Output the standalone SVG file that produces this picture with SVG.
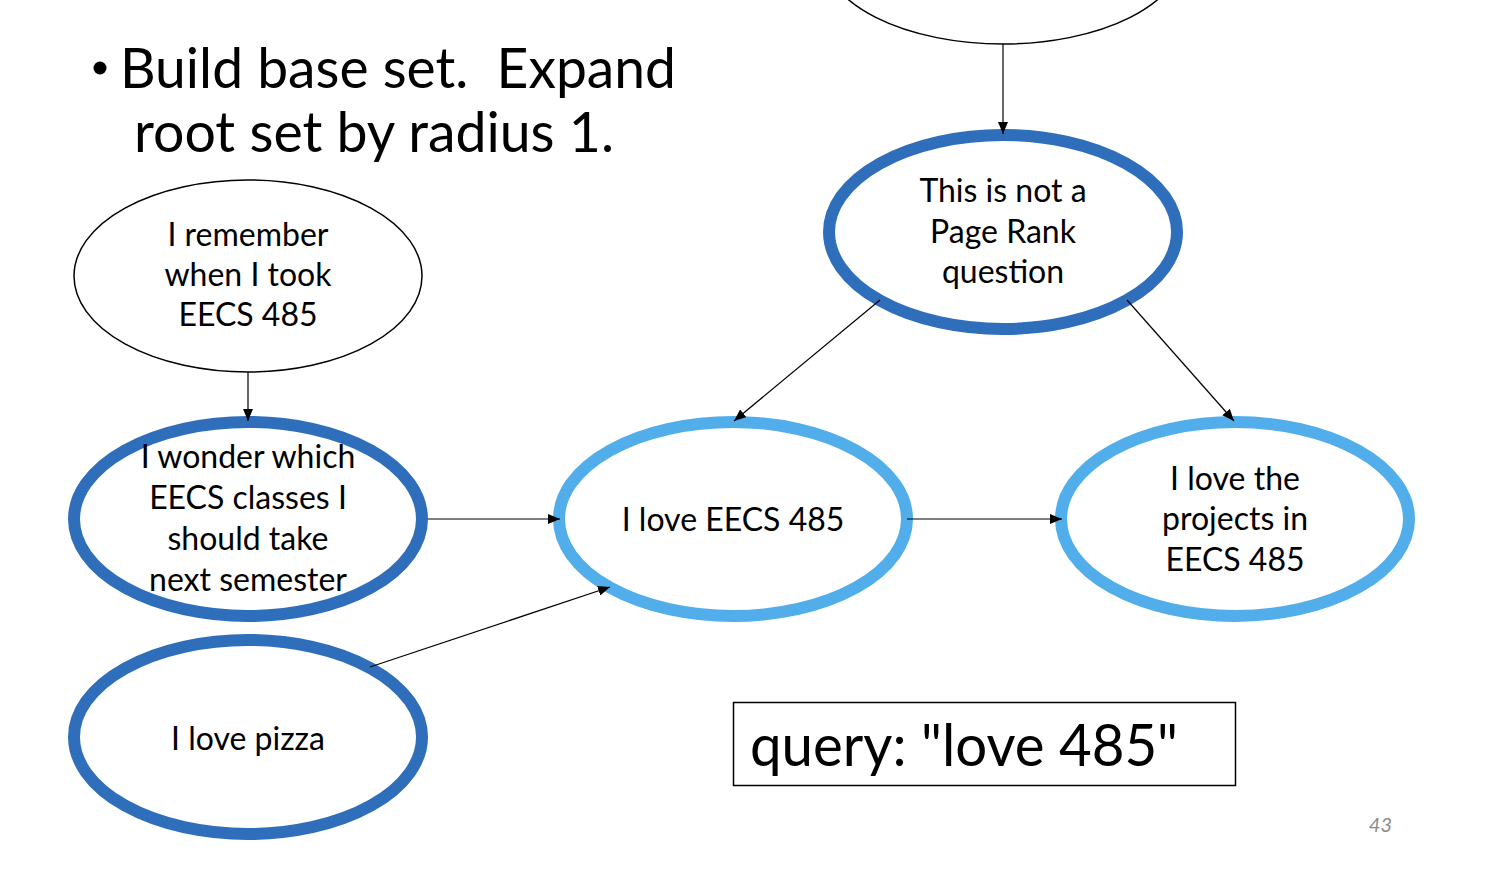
<svg xmlns="http://www.w3.org/2000/svg" width="1508" height="882" viewBox="0 0 1508 882">
<style>
  .lbl { font-family: Lato, "Liberation Sans", sans-serif; font-size: 32px; fill: #000; text-anchor: middle; }
  .thin { fill: #fff; stroke: #000; stroke-width: 1.5; }
  .dark { fill: #fff; stroke: #2F6EBA; stroke-width: 12; }
  .light { fill: #fff; stroke: #52AEEA; stroke-width: 12; }
  .edge { fill: none; stroke: #000; stroke-width: 1.2; marker-end: url(#arr); }
  .title { font-family: Lato, "Liberation Sans", sans-serif; font-size: 56px; fill: #000; white-space: pre; }
</style>
<defs>
  <marker id="arr" viewBox="0 0 12 10" refX="12" refY="5" markerWidth="12" markerHeight="10" markerUnits="userSpaceOnUse" orient="auto">
    <path d="M0,0 L12,5 L0,10 Z" fill="#000"/>
  </marker>
</defs>
<rect width="1508" height="882" fill="#fff"/>

<g id="title">
  <circle cx="100" cy="68" r="6.5" fill="#000"/>
  <text class="title" x="120" y="88" textLength="556" lengthAdjust="spacingAndGlyphs" xml:space="preserve">Build base set.  Expand</text>
  <text class="title" x="134" y="152" textLength="480" lengthAdjust="spacingAndGlyphs">root set by radius 1.</text>
</g>

<g id="node-top">
  <ellipse class="thin" cx="1003" cy="-47" rx="180" ry="91"/>
</g>

<g id="node-remember">
  <ellipse class="thin" cx="248" cy="276" rx="174" ry="96"/>
  <text class="lbl" x="248" y="246">I remember</text>
  <text class="lbl" x="248" y="286">when I took</text>
  <text class="lbl" x="248" y="326">EECS 485</text>
</g>

<g id="node-wonder">
  <ellipse class="dark" cx="248" cy="519" rx="174" ry="97"/>
  <text class="lbl" x="248" y="468">I wonder which</text>
  <text class="lbl" x="248" y="509">EECS classes I</text>
  <text class="lbl" x="248" y="550">should take</text>
  <text class="lbl" x="248" y="591">next semester</text>
</g>

<g id="node-pizza">
  <ellipse class="dark" cx="248" cy="737" rx="174" ry="97"/>
  <text class="lbl" x="248" y="750">I love pizza</text>
</g>

<g id="node-love485">
  <ellipse class="light" cx="733" cy="519" rx="174" ry="97"/>
  <text class="lbl" x="733" y="531">I love EECS 485</text>
</g>

<g id="node-projects">
  <ellipse class="light" cx="1235" cy="519" rx="174" ry="97"/>
  <text class="lbl" x="1235" y="490">I love the</text>
  <text class="lbl" x="1235" y="530">projects in</text>
  <text class="lbl" x="1235" y="571">EECS 485</text>
</g>

<g id="node-pagerank">
  <ellipse class="dark" cx="1003" cy="232" rx="174" ry="97"/>
  <text class="lbl" x="1003" y="202">This is not a</text>
  <text class="lbl" x="1003" y="243">Page Rank</text>
  <text class="lbl" x="1003" y="283">question</text>
</g>

<g id="connectors">
  <line class="edge" x1="1003" y1="44" x2="1003" y2="134"/>
  <line class="edge" x1="248" y1="372" x2="248" y2="421"/>
  <line class="edge" x1="428" y1="519" x2="560" y2="519"/>
  <line class="edge" x1="907" y1="519" x2="1062" y2="519"/>
  <line class="edge" x1="880" y1="300" x2="734" y2="421"/>
  <line class="edge" x1="1127" y1="300" x2="1234" y2="421"/>
  <line class="edge" x1="370" y1="667" x2="610" y2="587"/>
</g>

<g id="query">
  <rect x="733.5" y="702.5" width="502" height="83" fill="#fff" stroke="#000" stroke-width="1.5"/>
  <text x="750" y="766" font-family="Lato, 'Liberation Sans', sans-serif" font-size="58" textLength="428" lengthAdjust="spacingAndGlyphs">query: "love 485"</text>
</g>

<text x="1392" y="832" font-family="Lato, 'Liberation Sans', sans-serif" font-size="20" font-style="italic" fill="#8B8B8B" text-anchor="end">43</text>
</svg>
